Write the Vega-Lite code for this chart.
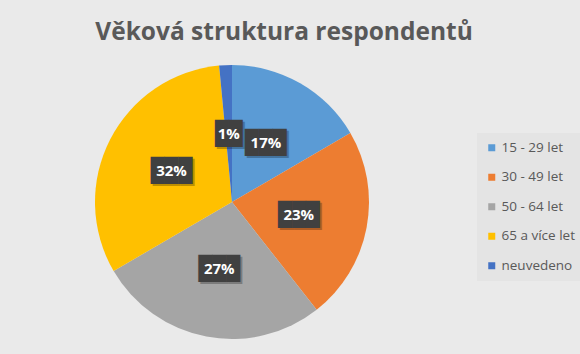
{
  "$schema": "https://vega.github.io/schema/vega-lite/v6.json",
  "width": 464,
  "height": 274,
  "autosize": {"type": "none"},
  "padding": {"left": 0, "top": 65, "right": 116, "bottom": 15},
  "background": "#eaeaea",
  "title": {
    "text": "Věková struktura respondentů",
    "font": "Open Sans",
    "fontSize": 24.5,
    "fontWeight": "bold",
    "color": "#595959",
    "anchor": "middle",
    "dx": 52,
    "offset": 20
  },
  "config": {"view": {"stroke": null}},
  "data": {
    "values": [
      {"age": "15 - 29 let", "value": 16.6, "label": "17%", "order": 1},
      {"age": "30 - 49 let", "value": 22.8, "label": "23%", "order": 2},
      {"age": "50 - 64 let", "value": 27.2, "label": "27%", "order": 3},
      {"age": "65 a více let", "value": 31.9, "label": "32%", "order": 4},
      {"age": "neuvedeno", "value": 1.5, "label": "1%", "order": 5}
    ]
  },
  "encoding": {
    "theta": {"field": "value", "type": "quantitative", "stack": true},
    "order": {"field": "order", "type": "quantitative"}
  },
  "layer": [
    {
      "mark": {"type": "arc", "outerRadius": 137},
      "encoding": {
        "color": {
          "field": "age",
          "type": "nominal",
          "sort": null,
          "scale": {
            "domain": ["15 - 29 let", "30 - 49 let", "50 - 64 let", "65 a více let", "neuvedeno"],
            "range": ["#5b9bd5", "#ed7d31", "#a5a5a5", "#ffc000", "#4472c4"]
          },
          "legend": {
            "title": null,
            "orient": "none",
            "legendX": 477,
            "legendY": 68,
            "padding": 8,
            "fillColor": "#e4e4e4",
            "symbolType": "square",
            "symbolSize": 49,
            "symbolStrokeWidth": 0,
            "labelFont": "Open Sans",
            "labelFontSize": 13.5,
            "labelColor": "#595959",
            "labelOffset": 3,
            "rowPadding": 14.5
          }
        }
      }
    },
    {
      "mark": {"type": "text", "radius": 68, "font": "DejaVu Sans Mono", "fontSize": 23, "dx": 2, "dy": 2, "baseline": "middle", "opacity": 0.25},
      "encoding": {
        "detail": {"field": "age"},
        "color": {"value": "#000000"},
        "text": {"condition": {"test": "datum.label == '1%'", "value": "██"}, "value": "███"}
      }
    },
    {
      "mark": {"type": "text", "radius": 68, "font": "DejaVu Sans Mono", "fontSize": 23, "baseline": "middle"},
      "encoding": {
        "detail": {"field": "age"},
        "color": {"value": "#404040"},
        "text": {"condition": {"test": "datum.label == '1%'", "value": "██"}, "value": "███"}
      }
    },
    {
      "mark": {"type": "text", "radius": 68, "font": "Open Sans", "fontSize": 15, "fontWeight": "bold", "baseline": "middle"},
      "encoding": {
        "detail": {"field": "age"},
        "color": {"value": "#ffffff"},
        "text": {"field": "label"}
      }
    }
  ]
}
